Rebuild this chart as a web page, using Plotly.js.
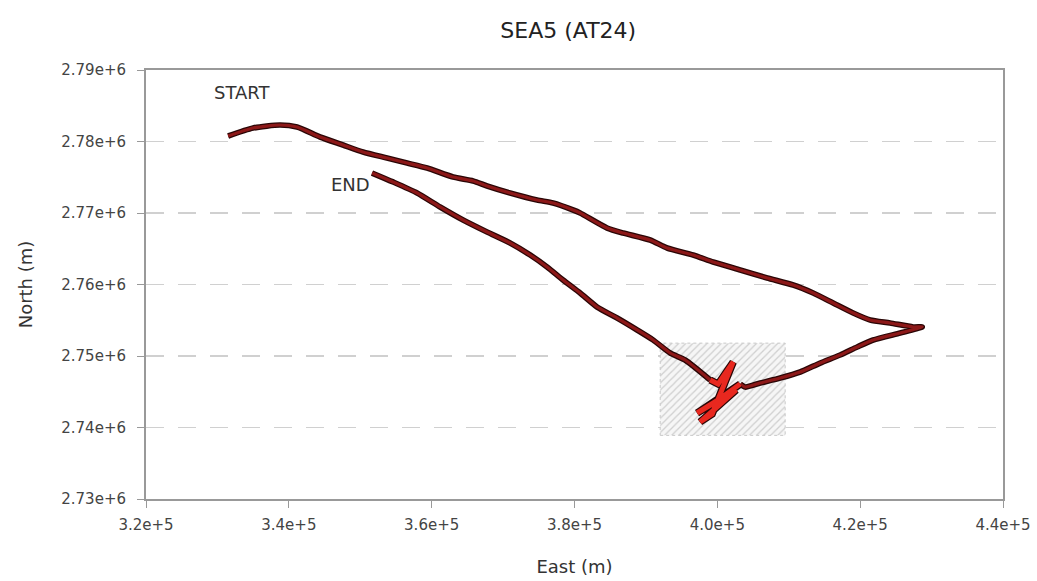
<!DOCTYPE html>
<html>
<head>
<meta charset="utf-8">
<script src="https://cdn.plot.ly/plotly-3.0.1.min.js"></script>
<style>html,body{margin:0;padding:0;background:#fff;}#chart{width:1037px;height:581px;}</style>
</head>
<body>
<div id="chart"></div>
<script>
// Outbound leg (START -> eastern tip -> back into survey box)
const mainEast = [331500,334990,338770,341150,344370,347590,350390,353750,356560,359360,363000,365800,367760,370980,374760,377000,379810,380790,384570,386810,390590,392970,396610,399410,403200,406980,410620,413420,416220,419020,421400,424200,427430,428690,425600,421820,419580,417200,414400,411600,408800,406000,403900,403200];
const mainNorth = [2780770,2781890,2782310,2782030,2780630,2779510,2778530,2777690,2776990,2776290,2775030,2774480,2773780,2772800,2771820,2771400,2770420,2770000,2767900,2767200,2766220,2765100,2764130,2763150,2762030,2760910,2759930,2758810,2757410,2756010,2755030,2754620,2754060,2754060,2753220,2752240,2751260,2750140,2749020,2747760,2746920,2746220,2745660,2746080];
// Survey manoeuvres inside the box
const boxTrackEast = [403200,400110,397170,399270,402640,399830,397590,399270,402220,400110,399000];
const boxTrackNorth = [2746080,2743850,2742030,2743290,2745250,2742730,2740770,2741890,2749160,2746080,2746640];
// Return leg (box -> END)
const endEast = [399000,395490,393390,391010,388770,385970,383170,380790,378400,376160,373780,370980,367760,364400,361180,357960,354600,351650];
const endNorth = [2746640,2749440,2750420,2752240,2753640,2755310,2756850,2758810,2760630,2762450,2764130,2765800,2767340,2769020,2770840,2772800,2774340,2775590];
// Shaded survey area
const areaEast = [392000,409500,409500,392000,392000];
const areaNorth = [2738900,2738900,2751800,2751800,2738900];
// Axis ticks
const xTickVals = [320000,340000,360000,380000,400000,420000,440000];
const xTickText = ['3.2e+5','3.4e+5','3.6e+5','3.8e+5','4.0e+5','4.2e+5','4.4e+5'];
const yTickVals = [2730000,2740000,2750000,2760000,2770000,2780000,2790000];
const yTickText = ['2.73e+6','2.74e+6','2.75e+6','2.76e+6','2.77e+6','2.78e+6','2.79e+6'];

const dark = '#8c1818', outline = '#2a0606', bright = '#e8281f';
function outlined(x, y, col, w, shape) {
  return [
    {x: x, y: y, type: 'scatter', mode: 'lines', line: {color: outline, width: w + 2.5, shape: shape, smoothing: 0.6}, hoverinfo: 'skip', showlegend: false},
    {x: x, y: y, type: 'scatter', mode: 'lines', line: {color: col, width: w, shape: shape, smoothing: 0.6}, showlegend: false}
  ];
}
const traces = [
  {x: areaEast, y: areaNorth, type: 'scatter', mode: 'lines', fill: 'toself',
   fillcolor: 'rgba(0,0,0,0)', fillpattern: {shape: '/', fgcolor: '#cfcfcf', bgcolor: '#f6f6f6', size: 5, solidity: 0.25},
   line: {color: '#c8c8c8', width: 1, dash: 'dot'}, hoverinfo: 'skip', showlegend: false}
].concat(outlined(endEast, endNorth, dark, 3.2, 'spline'), outlined(mainEast, mainNorth, dark, 3.2, 'spline'), outlined(boxTrackEast, boxTrackNorth, bright, 5, 'linear'));

const fontFam = 'DejaVu Sans, Liberation Sans, Arial, sans-serif';
const layout = {
  width: 1037, height: 581,
  margin: {l: 146, r: 34, t: 70, b: 82},
  paper_bgcolor: '#fff', plot_bgcolor: '#fff',
  font: {family: fontFam, color: '#444', size: 15},
  title: {text: 'SEA5 (AT24)', x: 0.548, xanchor: 'center', y: 0.948, yanchor: 'middle', font: {size: 22, color: '#222', family: fontFam}},
  xaxis: {range: [320000, 440000], tickvals: xTickVals, ticktext: xTickText, showgrid: false, zeroline: false,
    showline: true, linecolor: '#999', linewidth: 2, mirror: true, ticks: 'outside', ticklen: 7, tickcolor: '#999',
    ticklabelstandoff: 4,
    tickfont: {size: 15, color: '#444'}, title: {text: 'East (m)', font: {size: 18, color: '#333'}, standoff: 27}},
  yaxis: {range: [2730000, 2790000], tickvals: yTickVals, ticktext: yTickText, showgrid: true, gridcolor: '#d0d0d0',
    griddash: '18px,14px', gridwidth: 1.5, zeroline: false,
    showline: true, linecolor: '#999', linewidth: 2, mirror: true, ticks: 'outside', ticklen: 7, tickcolor: '#999',
    ticklabelstandoff: 8,
    tickfont: {size: 15, color: '#444'}, title: {text: 'North (m)', font: {size: 18, color: '#333'}, standoff: 24}},
  annotations: [
    {x: 333450, y: 2786920, text: 'START', showarrow: false, font: {size: 18, color: '#333'}},
    {x: 348570, y: 2773920, text: 'END', showarrow: false, font: {size: 18, color: '#333'}}
  ]
};
Plotly.newPlot('chart', traces, layout, {displayModeBar: false, staticPlot: true});
</script>
</body>
</html>
